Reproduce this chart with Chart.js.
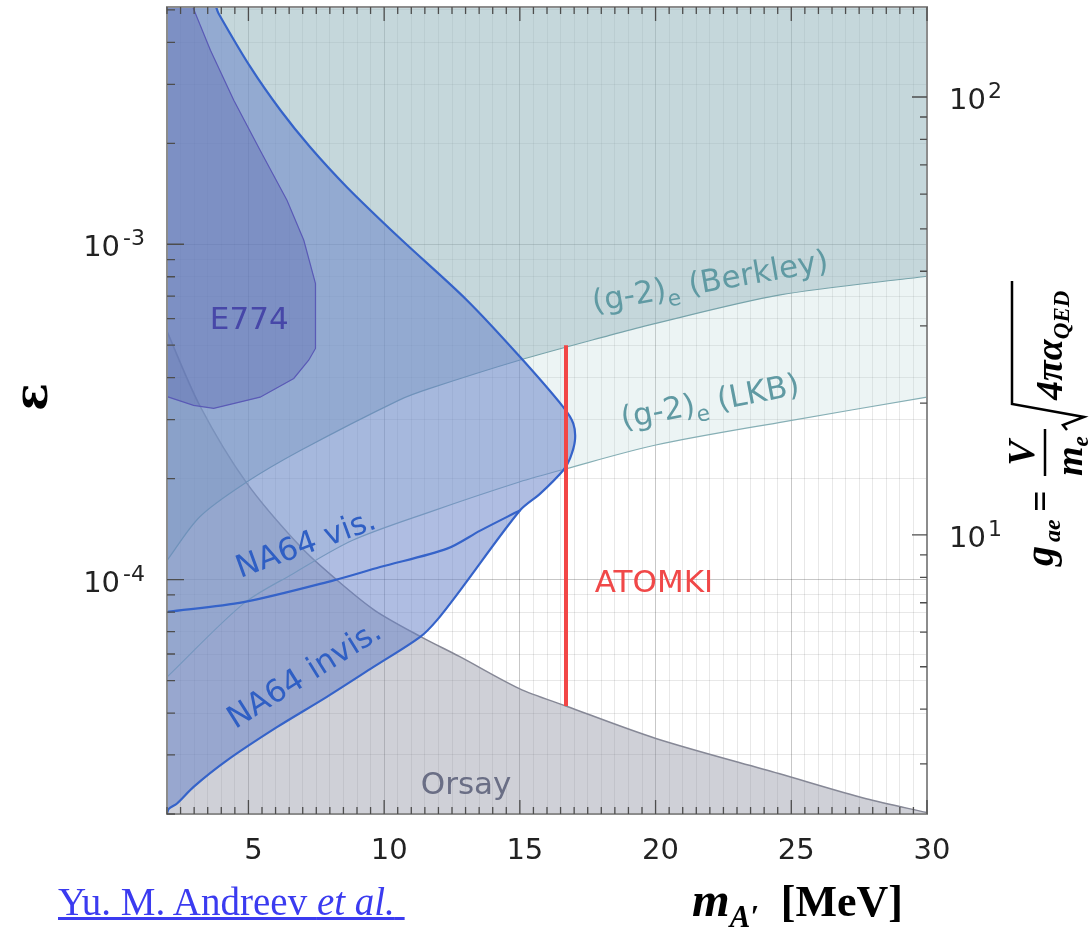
<!DOCTYPE html>
<html>
<head>
<meta charset="utf-8">
<title>Dark photon limits</title>
<script src="https://cdn.jsdelivr.net/npm/chart.js@4.4.0/dist/chart.umd.min.js"></script>
<style>
  body { margin: 0; background: #fff; }
  #wrap { position: relative; width: 1089px; height: 930px; }
  #ref { position: absolute; left: 58px; top: 882px; font: 39px "Liberation Serif", serif;
         line-height: 39px; color: #3b3bf0; text-decoration: underline; white-space: pre; }
</style>
</head>
<body>
<div id="wrap">
  <canvas id="myChart" width="1089" height="930"></canvas>
  <a id="ref" href="#">Yu. M. Andreev <i>et al.</i> </a>
</div>
<script>
// axis ranges
const massMin = 2, massMax = 30;
const epsMin = 2e-5, epsMax = 5.1e-3;
const gMin = 2.305, gMax = 160.5;

// tick values
const massLabels = [5, 10, 15, 20, 25, 30];
const epsTicks = [2e-5, 3e-5, 4e-5, 5e-5, 6e-5, 7e-5, 8e-5, 9e-5,
                  1e-4, 2e-4, 3e-4, 4e-4, 5e-4, 6e-4, 7e-4, 8e-4, 9e-4,
                  1e-3, 2e-3, 3e-3, 4e-3, 5e-3];
const epsLabels = [1e-4, 1e-3];
const epsExps = ['-4', '-3'];
const gTicks = [3, 4, 5, 6, 7, 8, 9, 10, 20, 30, 40, 50, 60, 70, 80, 90, 100];
const gLabels = [10, 100];
const gExps = ['1', '2'];

// Orsay (excluded below)
const orsayMass = [2, 3.21, 4.92, 6.93, 8.24, 9.65, 11.36, 12.77, 14.98, 16.69, 20.01, 24.54, 27.76, 30];
const orsayEps = [5.5e-4, 3.3e-4, 1.95e-4, 1.25e-4, 1.0e-4, 8.1e-5, 6.75e-5, 5.9e-5, 4.73e-5, 4.2e-5, 3.36e-5, 2.64e-5, 2.22e-5, 2.02e-5];

// (g-2)e, excluded above
const berkleyMass = [2, 3.21, 4.92, 6.93, 10.55, 11.66, 14.98, 18.3, 19.71, 24.54, 30];
const berkleyEps = [1.14e-4, 1.54e-4, 1.95e-4, 2.43e-4, 3.43e-4, 3.71e-4, 4.51e-4, 5.35e-4, 5.73e-4, 7.05e-4, 8.03e-4];
const lkbMass = [2, 4.82, 6.63, 8.84, 11.67, 14.98, 16.69, 20.01, 24.54, 30];
const lkbEps = [5.12e-5, 8.48e-5, 1.04e-4, 1.31e-4, 1.59e-4, 1.955e-4, 2.14e-4, 2.52e-4, 2.94e-4, 3.5e-4];

// NA64 edge: upper curve down to the tip, then the invisible-mode edge to the bottom left
const na64Mass = [3.81, 3.9, 5.07, 6.18, 7.27, 8.63, 10.59, 13.05, 15.01, 16.6, 16.97, 17.03, 16.85, 16.6, 15.75, 15.01,
                  12.8, 11.94, 11.33, 9.61, 7.89, 6.05, 4.21, 2.98, 2.37, 2.06, 2];
const na64Eps = [5.1e-3, 4.88e-3, 3.38e-3, 2.51e-3, 1.95e-3, 1.48e-3, 1.04e-3, 6.81e-4, 4.61e-4, 3.27e-4, 2.92e-4, 2.6e-4, 2.3e-4, 2.12e-4, 1.805e-4, 1.61e-4,
                 9.29e-5, 7.56e-5, 6.75e-5, 5.49e-5, 4.47e-5, 3.63e-5, 2.89e-5, 2.41e-5, 2.15e-5, 2.07e-5, 2.0e-5];
// lower edge of the visible-mode band
const visMass = [2, 4.82, 8.14, 9.85, 12.32, 13.54, 15.01];
const visEps = [8.01e-5, 8.57e-5, 9.95e-5, 1.09e-4, 1.237e-4, 1.4e-4, 1.61e-4];

// E774 contour
const e774Mass = [2, 2.95, 3.6, 4.46, 5.43, 6.42, 7.04, 7.47, 7.47, 7.22, 6.67, 5.43, 3.72, 2.98, 2.06, 2];
const e774Eps = [5.1e-3, 5.1e-3, 3.79e-3, 2.69e-3, 1.907e-3, 1.353e-3, 1.028e-3, 7.63e-4, 4.89e-4, 4.51e-4, 3.98e-4, 3.5e-4, 3.24e-4, 3.31e-4, 3.5e-4, 3.52e-4];

// ATOMKI X17
const atomkiMass = [16.7, 16.7];
const atomkiEps = [4.2e-5, 5.0e-4];

// labels inside the plot
const notes = [
  { runs: [{ t: '(g-2)' }, { t: 'e', sub: true }, { t: ' (Berkley)' }], x: 22.0, y: 7.81e-4, angle: 10, color: '#609aa3' },
  { runs: [{ t: '(g-2)' }, { t: 'e', sub: true }, { t: ' (LKB)' }], x: 22.0, y: 3.42e-4, angle: 11, color: '#609aa3' },
  { runs: [{ t: 'E774' }], x: 5.03, y: 6.02e-4, angle: 0, color: '#4747a8' },
  { runs: [{ t: 'NA64 vis.' }], x: 7.1, y: 1.29e-4, angle: 20, color: '#2f5fc4' },
  { runs: [{ t: 'NA64 invis.' }], x: 7.03, y: 5.25e-5, angle: 32, color: '#2f5fc4' },
  { runs: [{ t: 'ATOMKI' }], x: 19.94, y: 9.89e-5, angle: 0, color: '#f04848' },
  { runs: [{ t: 'Orsay' }], x: 13.02, y: 2.47e-5, angle: 0, color: '#6a6e85' }
];

const gridMajor = 'rgba(0,0,0,0.22)';
const gridMinor = 'rgba(0,0,0,0.09)';

const pts = (xs, ys) => xs.map((x, i) => ({ x: x, y: ys[i] }));
const isPow10 = v => Math.abs(Math.log10(v) - Math.round(Math.log10(v))) < 1e-6;
const isFive = v => Math.abs(v / 5 - Math.round(v / 5)) < 1e-6;

// text made of runs, subscripts shifted down and smaller
function drawRuns(ctx, runs, x, y, size, family, weight, align) {
  let total = 0;
  runs.forEach(r => {
    r.size = r.sub ? size * (r.scale || 0.7) : size * (r.scale || 1);
    ctx.font = (r.style || weight || '') + ' ' + r.size + 'px ' + family;
    r.w = ctx.measureText(r.t).width + (r.gap || 0);
    total += r.w;
  });
  let cx = align === 'center' ? x - total / 2 : (align === 'right' ? x - total : x);
  ctx.textAlign = 'left';
  runs.forEach(r => {
    ctx.font = (r.style || weight || '') + ' ' + r.size + 'px ' + family;
    ctx.fillText(r.t, cx, y + (r.sub ? size * 0.25 : 0));
    cx += r.w;
  });
}

const decorations = {
  id: 'decorations',
  afterDatasetsDraw(chart) {
    const { ctx, chartArea: a, scales } = chart;
    const xs = scales.x, ys = scales.y, gs = scales.g;
    ctx.save();
    // frame
    ctx.strokeStyle = '#8c8c8c';
    ctx.lineWidth = 2;
    ctx.strokeRect(a.left, a.top, a.right - a.left, a.bottom - a.top);
    // tick marks pointing into the plot
    ctx.strokeStyle = '#4d4d4d';
    ctx.lineWidth = 1.3;
    ctx.beginPath();
    xs.ticks.forEach(t => {
      const p = xs.getPixelForValue(t.value);
      const len = isFive(t.value) ? 14 : 7;
      ctx.moveTo(p, a.bottom); ctx.lineTo(p, a.bottom - len);
      ctx.moveTo(p, a.top); ctx.lineTo(p, a.top + len);
    });
    ys.ticks.forEach(t => {
      const p = ys.getPixelForValue(t.value);
      ctx.moveTo(a.left, p); ctx.lineTo(a.left + (isPow10(t.value) ? 17 : 8), p);
    });
    gs.ticks.forEach(t => {
      const p = gs.getPixelForValue(t.value);
      ctx.moveTo(a.right, p); ctx.lineTo(a.right - (isPow10(t.value) ? 15 : 7), p);
    });
    ctx.stroke();
    // region names
    notes.forEach(n => {
      ctx.save();
      ctx.translate(xs.getPixelForValue(n.x), ys.getPixelForValue(n.y));
      ctx.rotate(-n.angle * Math.PI / 180);
      ctx.fillStyle = n.color;
      ctx.textBaseline = 'alphabetic';
      drawRuns(ctx, n.runs, 0, 11, 31, '"DejaVu Sans"', '', 'center');
      ctx.restore();
    });
    ctx.restore();
  },
  afterDraw(chart) {
    const { ctx, chartArea: a, scales } = chart;
    const ys = scales.y, gs = scales.g;
    ctx.save();
    ctx.fillStyle = '#222';
    ctx.textBaseline = 'alphabetic';
    // 10^n labels, left axis
    epsLabels.forEach((v, i) => {
      const p = ys.getPixelForValue(v);
      ctx.font = '22px "DejaVu Sans"';
      const ew = ctx.measureText(epsExps[i]).width;
      ctx.textAlign = 'right';
      ctx.fillText(epsExps[i], a.left - 22, p + 1);
      ctx.font = '29px "DejaVu Sans"';
      ctx.fillText('10', a.left - 25 - ew, p + 12);
    });
    // 10^n labels, right axis
    gLabels.forEach((v, i) => {
      const p = gs.getPixelForValue(v);
      ctx.textAlign = 'left';
      ctx.font = '29px "DejaVu Sans"';
      const w = ctx.measureText('10').width;
      ctx.fillText('10', a.right + 22, p + 12);
      ctx.font = '22px "DejaVu Sans"';
      ctx.fillText(gExps[i], a.right + 24 + w, p + 1);
    });

    ctx.fillStyle = '#000';
    // y title
    ctx.save();
    ctx.translate(47, 397);
    ctx.rotate(-Math.PI / 2);
    ctx.textAlign = 'center';
    ctx.font = 'bold 46px "DejaVu Serif"';
    ctx.fillText('ε', 0, 0);
    ctx.restore();

    // x title
    drawRuns(ctx, [
      { t: 'm', style: 'bold italic', scale: 1.1 },
      { t: 'A′', style: 'bold italic', sub: true, gap: 22 },
      { t: '[MeV]', style: 'bold' }
    ], 692, 916, 44, '"Liberation Serif"', 'bold', 'left');

    // right title: g_ae = V/m_e sqrt(4 pi alpha_QED), written bottom to top
    ctx.save();
    ctx.translate(1053, 567);
    ctx.rotate(-Math.PI / 2);
    const fam = '"Liberation Serif"';
    ctx.textAlign = 'left';
    ctx.font = 'bold italic 40px ' + fam;
    ctx.fillText('g', 1, 0);
    ctx.font = 'bold italic 24px ' + fam;
    ctx.fillText('ae', 25, 7);
    ctx.font = 'bold 38px ' + fam;
    ctx.fillText('=', 55, 0);
    ctx.font = 'bold italic 38px ' + fam;
    ctx.textAlign = 'center';
    ctx.fillText('V', 114, -19);
    ctx.textAlign = 'left';
    ctx.fillText('m', 91, 29);
    const mw = ctx.measureText('m').width;
    ctx.font = 'bold italic 23px ' + fam;
    ctx.fillText('e', 91 + mw, 35);
    ctx.lineWidth = 2.5;
    ctx.strokeStyle = '#000';
    ctx.beginPath();
    ctx.moveTo(91, -8); ctx.lineTo(138, -8);
    ctx.stroke();
    ctx.beginPath();
    ctx.moveTo(137, 14); ctx.lineTo(142, 10); ctx.lineTo(150, 31);
    ctx.lineTo(163, -41); ctx.lineTo(286, -41);
    ctx.stroke();
    ctx.font = 'bold italic 38px ' + fam;
    ctx.fillText('4πα', 167, 9);
    const rw = ctx.measureText('4πα').width;
    ctx.font = 'bold italic 23px ' + fam;
    ctx.fillText('QED', 167 + rw, 16);
    ctx.restore();

    ctx.restore();
  }
};

const ctx = document.getElementById('myChart').getContext('2d');
const myChart = new Chart(ctx, {
  type: 'line',
  data: {
    datasets: [
      { label: 'Orsay', data: pts(orsayMass, orsayEps), fill: 'start', backgroundColor: 'rgba(140,142,160,0.42)',
        borderColor: '#868896', borderWidth: 1.5, tension: 0.3, order: 10 },
      { label: 'LKB', data: pts(lkbMass, lkbEps), fill: 'end', backgroundColor: 'rgba(180,210,210,0.25)',
        borderColor: '#86afb5', borderWidth: 1.2, tension: 0.3, order: 9 },
      { label: 'Berkley', data: pts(berkleyMass, berkleyEps), fill: 'end', backgroundColor: 'rgba(138,172,182,0.4)',
        borderColor: '#78a4ab', borderWidth: 1.2, tension: 0.3, order: 8 },
      { label: 'NA64 area', data: [{ x: massMin, y: epsMax }].concat(pts(na64Mass, na64Eps)), fill: 'shape',
        backgroundColor: 'rgba(104,131,200,0.53)', borderColor: 'transparent', borderWidth: 0, tension: 0.3, order: 7 },
      { label: 'NA64', data: pts(na64Mass, na64Eps), fill: false, borderColor: '#3563c9', borderWidth: 2.2, tension: 0.3, order: 6 },
      { label: 'NA64 vis.', data: pts(visMass, visEps), fill: false, borderColor: '#3563c9', borderWidth: 2.2, tension: 0.3, order: 5 },
      { label: 'E774', data: pts(e774Mass, e774Eps), fill: 'shape', backgroundColor: 'rgba(72,82,165,0.3)',
        borderColor: '#5a5ab6', borderWidth: 1.2, tension: 0, order: 4 },
      { label: 'ATOMKI', data: pts(atomkiMass, atomkiEps), fill: false, borderColor: '#f24646', borderWidth: 4, order: 0 }
    ]
  },
  options: {
    responsive: false,
    animation: false,
    devicePixelRatio: 1,
    layout: { padding: { top: 7 } },
    plugins: { legend: { display: false }, tooltip: { enabled: false } },
    elements: { point: { radius: 0, hoverRadius: 0 } },
    scales: {
      x: {
        type: 'linear', min: massMin, max: massMax,
        afterFit: s => { s.height = 116; },
        ticks: {
          stepSize: 0.5, autoSkip: false, maxRotation: 0, padding: 20, labelOffset: 5,
          font: { family: 'DejaVu Sans', size: 29 }, color: '#222',
          callback: v => massLabels.some(m => Math.abs(m - v) < 1e-6) ? String(Math.round(v)) : ''
        },
        grid: { drawTicks: false, color: c => (c.tick && isFive(c.tick.value)) ? gridMajor : gridMinor },
        border: { display: false }
      },
      y: {
        type: 'logarithmic', position: 'left', min: epsMin, max: epsMax,
        afterFit: s => { s.width = 167; },
        afterBuildTicks: s => { s.ticks = epsTicks.map(v => ({ value: v })); },
        ticks: { display: false },
        grid: { drawTicks: false, color: c => (c.tick && isPow10(c.tick.value)) ? gridMajor : gridMinor },
        border: { display: false }
      },
      g: {
        type: 'logarithmic', position: 'right', min: gMin, max: gMax,
        afterFit: s => { s.width = 162; },
        afterBuildTicks: s => { s.ticks = gTicks.map(v => ({ value: v })); },
        ticks: { display: false },
        grid: { display: false },
        border: { display: false }
      }
    }
  },
  plugins: [decorations]
});
</script>
</body>
</html>
